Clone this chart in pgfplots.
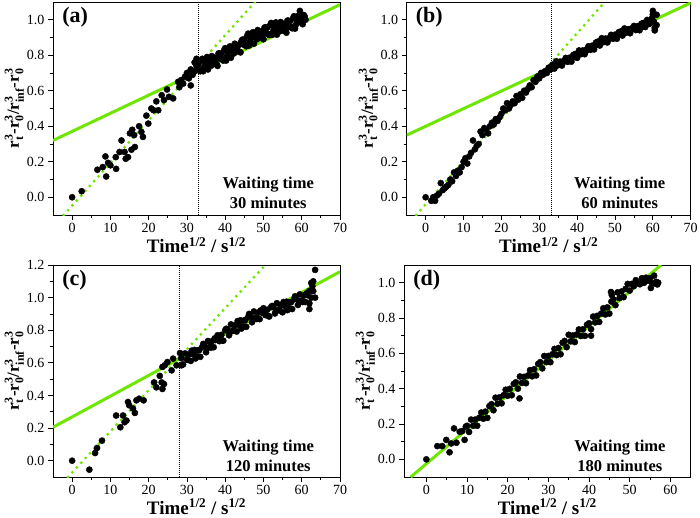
\documentclass[border=0pt]{standalone}
\usepackage{fontspec}
\setmainfont{Liberation Serif}
\usepackage{amsmath}
\usepackage{pgfplots}
\pgfplotsset{compat=1.18}
\definecolor{fitgreen}{RGB}{110,230,0}

\tikzset{
  plab/.style={anchor=west, font=\fontsize{22}{24}\selectfont\bfseries},
  wlab/.style={align=center, font=\fontsize{16.5}{20}\selectfont\bfseries},
}
\pgfplotsset{
  panel/.style={
    scale only axis, height=213pt,
    xmin=-5, xmax=70, ymin=-0.1, ymax=1.1,
    axis line style={line width=0.9pt},
    tick style={black, line width=0.8pt},
    tick align=outside, xtick pos=bottom, ytick pos=left,
    major tick length=5pt, minor tick length=3pt,
    minor x tick num=1, minor y tick num=1,
    xtick={0,10,...,70}, ytick={0,0.2,0.4,0.6,0.8,1.0},
    tick label style={font=\fontsize{14}{16}\selectfont},
    /pgf/number format/assume math mode=true,
    y tick label style={/pgf/number format/fixed, /pgf/number format/fixed zerofill, /pgf/number format/precision=1},
    xlabel={\textbf{Time}$^{\textbf{1/2}}$\textbf{ / s}$^{\textbf{1/2}}$},
    ylabel={\textbf{r}$_{\textbf{t}}^{\textbf{3}}$\textbf{-r}$_{\textbf{0}}^{\textbf{3}}$\textbf{/r}$_{\textbf{inf}}^{\textbf{3}}$\textbf{-r}$_{\textbf{0}}^{\textbf{3}}$},
    x label style={font=\fontsize{19}{22}\selectfont, at={(axis description cs:0.5,-0.14)}, anchor=center},
    y label style={font=\fontsize{17}{20}\selectfont, at={(axis description cs:-0.135,0.5)}, anchor=center, rotate=0},
    clip=true,
  },
  dots/.style={only marks, mark=*, mark size=3.1pt, black},
  fitsolid/.style={fitgreen, line width=3pt},
  fitdot/.style={fitgreen, line width=3.2pt, line cap=round, dash pattern=on 0pt off 6.5pt},
  vdot/.style={black, line width=0.8pt, dash pattern=on 1pt off 1pt},
}

\begin{document}
\begin{tikzpicture}
\path[use as bounding box] (0pt,0pt) rectangle (700pt,-517pt);

% ---------------- (a)
\begin{axis}[panel, width=287pt, at={(53pt,-215pt)}, anchor=south west]
\addplot[dots] coordinates {
(0,0)(2.5,0.034)(6.6,0.155)(8.0,0.17)(8.7,0.23)(8.9,0.117)(9.4,0.194)(10,0.18)
(11.4,0.226)(11.5,0.16)(12.9,0.32)(12.4,0.255)(13.7,0.255)(14,0.217)(14.6,0.226)
(15.1,0.36)(15.5,0.268)(15.7,0.38)(16.4,0.283)(16.2,0.35)(17.5,0.40)(18.1,0.368)(18.5,0.34)
(19.4,0.46)(19.9,0.415)(20.7,0.5)(21.3,0.49)(22,0.54)(22.5,0.49)(23.4,0.575)(24,0.547)
(24.8,0.607)(25.3,0.566)(26.4,0.557)(27.7,0.65)(28,0.62)(28.5,0.66)(29,0.64)(29.5,0.68)
(30,0.70)(30.5,0.67)(31,0.72)(31,0.63)(31.5,0.69)(32,0.71)(32,0.76)(32.5,0.74)(32.5,0.78)
(33,0.75)(33.5,0.71)(34,0.78)(34.5,0.735)(35,0.765)(35.5,0.72)(36,0.765)(36.5,0.795)
(37,0.75)(37.5,0.785)(38,0.74)(38.5,0.81)(39,0.81)(39.5,0.77)(40,0.84)(40.5,0.797)
(41,0.829)(41.5,0.786)(42,0.833)(42.5,0.865)(43,0.822)(43.5,0.859)(44,0.816)(44.5,0.888)
(45,0.89)(45.5,0.851)(46,0.922)(46.5,0.878)(47,0.909)(47.5,0.865)(48,0.911)(48.5,0.942)
(49,0.898)(49.5,0.934)(50,0.89)(50.5,0.958)(51,0.956)(51.5,0.914)(52,0.982)(52.5,0.935)
(53,0.963)(53.5,0.916)(54,0.959)(54.5,0.987)(55,0.94)(55.5,0.973)(56,0.927)(56.5,0.995)
(57,0.993)(57.5,0.952)(58,1.02)(58.5,0.973)(59,1.002)(59.5,1.05)(60,0.998)(60.5,1.027)(61,1.0)
(33.25,0.72)(33.75,0.77)(34.25,0.71)(34.75,0.76)(35.25,0.79)(35.75,0.75)(36.25,0.74)
(36.75,0.79)(37.25,0.77)(37.75,0.75)(38.25,0.81)(38.75,0.78)(39.25,0.78)(39.75,0.83)
(40.25,0.77)(40.75,0.82)(41.25,0.85)(41.75,0.82)(42.25,0.81)(42.75,0.86)(43.25,0.85)
(43.75,0.82)(44.25,0.88)(44.75,0.86)(45.25,0.86)(45.75,0.91)(46.25,0.855)(46.75,0.90)
(47.25,0.93)(47.75,0.90)(48.25,0.89)(48.75,0.935)(49.25,0.92)(49.75,0.90)(50.25,0.955)
(50.75,0.925)(51.25,0.92)(51.75,0.97)(52.25,0.915)(52.75,0.955)(53.25,0.985)(53.75,0.95)
(54.25,0.935)(54.75,0.98)(55.25,0.96)(55.75,0.935)(56.25,0.995)(56.75,0.96)(57.25,0.96)
(57.75,1.01)(58.25,0.95)(58.75,0.995)(59.25,1.025)(59.75,0.985)(60.25,0.975)(60.75,1.02)
};
\addplot[fitsolid] coordinates {(-5,0.32)(70,1.085)};
\addplot[fitdot] coordinates {(-2.2,-0.1)(47.8,1.1)};
\addplot[vdot] coordinates {(32.9,-0.1)(32.9,1.1)};
\node[plab] at (rel axis cs:0.02,0.93) {(a)};
\node[wlab] at (rel axis cs:0.75,0.105) {Waiting time\\30 minutes};
\end{axis}

% ---------------- (b)
\begin{axis}[panel, width=284pt, at={(406.7pt,-215pt)}, anchor=south west]
\addplot[dots] coordinates {
(0,0)(1.5,-0.02)(2,0.0)(2.5,-0.02)(3,0.01)(3.5,0.02)(4,0.08)(4.5,0.04)(5,0.05)(5.5,0.06)
(6,0.07)(6.5,0.1)(7,0.09)(7.5,0.14)(8,0.12)(8.5,0.15)(9,0.14)(9.5,0.17)(10,0.2)(10.5,0.22)
(11,0.19)(11.5,0.23)(12,0.25)(12.5,0.32)(13,0.27)(13.5,0.29)(14,0.3)(14.5,0.37)(15,0.35)
(15.5,0.39)(16,0.38)(16.5,0.36)(17,0.4)(17.5,0.42)(18,0.41)(18.5,0.44)(19,0.43)(19.5,0.45)
(20,0.47)(20.5,0.5)(21,0.49)(21.5,0.53)(22,0.5)(22.5,0.52)(23,0.54)(23.5,0.53)(24,0.57)
(24.5,0.55)(25,0.58)(25.5,0.56)(26,0.6)(26.5,0.59)(27,0.61)(27.5,0.63)(28,0.62)(28.5,0.66)
(29,0.65)(29.5,0.68)(30,0.67)(30.5,0.7)(31,0.69)(31.5,0.71)(32,0.7)(32.5,0.73)(33,0.72)
(33.5,0.747)(34,0.725)(34.5,0.766)(35,0.744)(35.5,0.764)(36,0.742)(36.5,0.768)(37,0.785)
(37.5,0.763)(38,0.786)(38.5,0.764)(39,0.802)(39.5,0.807)(40,0.785)(40.5,0.827)(41,0.806)
(41.5,0.827)(42,0.806)(42.5,0.833)(43,0.851)(43.5,0.83)(44,0.854)(44.5,0.833)(45,0.872)
(45.5,0.877)(46,0.855)(46.5,0.896)(47,0.874)(47.5,0.894)(48,0.872)(48.5,0.898)(49,0.915)
(49.5,0.893)(50,0.916)(50.5,0.893)(51,0.93)(51.5,0.934)(52,0.911)(52.5,0.951)(53,0.928)
(53.5,0.947)(54,0.924)(54.5,0.949)(55,0.965)(55.5,0.942)(56,0.964)(56.5,0.941)(57,0.978)
(57.5,0.982)(58,0.959)(58.5,0.999)(59,0.976)(59.5,0.995)(60,1.03)(60.5,0.954)(61,1.028)
(60,1.05)(60.5,0.94)(59.8,1.01)(61,0.97)
(34.25,0.74)(35.25,0.75)(36.25,0.76)(37.25,0.77)(38.25,0.775)(39.25,0.79)
(40.25,0.81)(41.25,0.82)(42.25,0.82)(43.25,0.84)(44.25,0.85)(45.25,0.86)(46.25,0.88)
(47.25,0.88)(48.25,0.89)(49.25,0.9)(50.25,0.91)(51.25,0.92)(52.25,0.94)(53.25,0.94)
(54.25,0.95)(55.25,0.95)(56.25,0.955)(57.25,0.96)(58.25,0.98)(59.25,0.98)(60.25,0.99)
};
\addplot[fitsolid] coordinates {(-5,0.35)(70,1.095)};
\addplot[fitdot] coordinates {(-2.5,-0.1)(47.3,1.1)};
\addplot[vdot] coordinates {(33.1,-0.1)(33.1,1.1)};
\node[plab] at (rel axis cs:0.02,0.93) {(b)};
\node[wlab] at (rel axis cs:0.75,0.105) {Waiting time\\60 minutes};
\end{axis}

% ---------------- (c)
\begin{axis}[panel, width=287pt, height=212pt, ymax=1.2, ytick={0,0.2,0.4,0.6,0.8,1.0,1.2}, at={(53pt,-477pt)}, anchor=south west]
\addplot[dots] coordinates {
(0,0)(4.5,-0.055)(6,0.047)(6.5,0.078)(7.8,0.123)(11.5,0.277)(12.6,0.205)(13.3,0.277)
(13.7,0.236)(14.2,0.246)(14.6,0.36)(14.9,0.34)(15.9,0.32)(16.4,0.293)(16.8,0.37)(17.5,0.38)
(18.7,0.37)(21.4,0.48)(22,0.45)(22.9,0.52)(23.4,0.48)(23.6,0.44)(24,0.47)(23.6,0.575)
(24.2,0.585)(24.9,0.605)(26,0.554)(26.4,0.626)(27.3,0.585)(28.2,0.66)(28.6,0.585)
(28.5,0.628)(29,0.59)(29.5,0.658)(30,0.62)(30.5,0.651)(31,0.612)(31.5,0.653)(32,0.679)
(32.5,0.64)(33,0.676)(33.5,0.637)(34,0.698)(34.5,0.704)(35,0.665)(35.5,0.734)(36,0.698)
(36.5,0.732)(37,0.696)(37.5,0.74)(38,0.769)(38.5,0.733)(39,0.772)(39.5,0.736)(40,0.80)
(40.5,0.807)(41,0.769)(41.5,0.836)(42,0.798)(42.5,0.83)(43,0.792)(43.5,0.834)(44,0.861)
(44.5,0.823)(45,0.86)(45.5,0.821)(46,0.882)(46.5,0.888)(47,0.849)(47.5,0.915)(48,0.876)
(48.5,0.907)(49,0.868)(49.5,0.909)(50,0.935)(50.5,0.893)(51,0.926)(51.5,0.884)(52,0.942)
(52.5,0.945)(53,0.903)(53.5,0.966)(54,0.924)(54.5,0.952)(55,0.91)(55.5,0.95)(56,0.975)
(56.5,0.935)(57,0.97)(57.5,0.93)(58,0.99)(58.5,0.995)(59,0.955)(59.5,1.02)(60,0.98)
(60.5,1.012)(61,0.973)(61.5,1.015)(62,1.041)(62.5,1.0)(63,1.04)(63.5,1.0)
(62,0.93)(62.5,1.09)(63,1.1)(63.5,1.17)(62.8,1.07)(62,0.965)
(30.25,0.618)(31.25,0.675)(32.25,0.627)(33.25,0.679)(34.25,0.716)(35.25,0.69)(36.25,0.693)
(37.25,0.75)(38.25,0.749)(39.25,0.737)(40.25,0.809)(41.25,0.788)(42.25,0.797)(43.25,0.856)
(44.25,0.81)(45.25,0.863)(46.25,0.90)(47.25,0.872)(48.25,0.869)(49.25,0.921)(50.25,0.912)
(51.25,0.888)(52.25,0.949)(53.25,0.92)(54.25,0.921)(55.25,0.973)(56.25,0.923)(57.25,0.973)
(58.25,1.008)(59.25,0.978)(60.25,0.973)(61.25,1.026)
};
\addplot[fitsolid] coordinates {(-5,0.205)(70,1.159)};
\addplot[fitdot] coordinates {(-1.1,-0.1)(50.5,1.2)};
\addplot[vdot] coordinates {(28.0,-0.1)(28.0,1.2)};
\node[plab] at (rel axis cs:0.02,0.93) {(c)};
\node[wlab] at (rel axis cs:0.75,0.10) {Waiting time\\120 minutes};
\end{axis}

% ---------------- (d)
\begin{axis}[panel, width=286.7pt, height=212pt, xmin=-5.5, xmax=65, xtick={0,10,...,60}, at={(404pt,-477pt)}, anchor=south west]
\addplot[dots] coordinates {
(0,0)(2.7,0.075)(3.9,0.075)(4.9,0.11)(5.7,0.04)(6.1,0.09)(6.8,0.175)(7.4,0.094)(8.2,0.156)
(8.8,0.16)(9.4,0.11)(9.7,0.185)
(10,0.19)(10.5,0.155)(11,0.225)(11.5,0.19)(12,0.225)(12.5,0.19)(13,0.235)(13.5,0.265)
(14,0.23)(14.5,0.27)(15,0.235)(15.5,0.301)(16,0.312)(16.5,0.278)(17,0.349)(17.5,0.315)
(18,0.351)(18.5,0.317)(19,0.363)(19.5,0.394)(20,0.36)(20.5,0.399)(21,0.363)(21.5,0.427)
(22,0.436)(22.5,0.40)(23,0.469)(23.5,0.433)(24,0.467)(24.5,0.431)(25,0.475)(25.5,0.505)
(26,0.47)(26.5,0.51)(27,0.475)(27.5,0.54)(28,0.55)(28.5,0.515)(29,0.585)(29.5,0.55)
(30,0.585)(30.5,0.55)(31,0.595)(31.5,0.625)(32,0.59)(32.5,0.63)(33,0.595)(33.5,0.66)
(34,0.67)(34.5,0.635)(35,0.705)(35.5,0.668)(36,0.701)(36.5,0.664)(37,0.707)(37.5,0.735)
(38,0.698)(38.5,0.736)(39,0.699)(39.5,0.762)(40,0.77)(40.5,0.737)(41,0.808)(41.5,0.775)
(42,0.812)(42.5,0.778)(43,0.825)(43.5,0.855)(44,0.82)(44.5,0.86)(45,0.825)(45.5,0.893)
(46,0.905)(46.5,0.873)(47,0.945)(47.5,0.913)(48,0.95)(48.5,0.918)(49,0.965)(49.5,0.993)
(50,0.955)(50.5,0.993)(51,0.98)(51.5,1.014)(52,0.998)(52.5,0.991)(53,1.025)(53.5,0.999)
(54,1.028)(54.5,1.011)(55,1.025)(55.5,0.998)(56,1.04)(56.5,0.993)(57,1.0)
(55.2,0.97)(45.4,0.947)(45.6,0.93)(22.9,0.345)(40.5,0.70)(56.5,1.005)(56.8,0.99)
};
\addplot[fitsolid] coordinates {(-3.85,-0.1)(57.7,1.1)};
\node[plab] at (rel axis cs:0.02,0.93) {(d)};
\node[wlab] at (rel axis cs:0.753,0.10) {Waiting time\\180 minutes};
\end{axis}
\end{tikzpicture}
\end{document}
